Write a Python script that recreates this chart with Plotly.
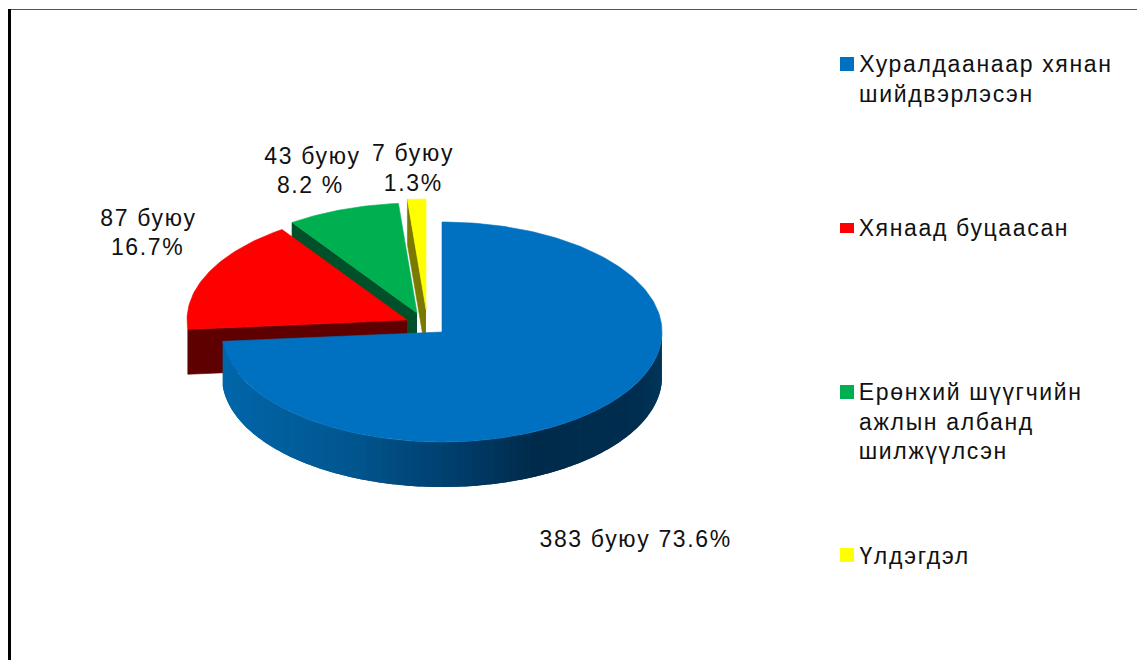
import numpy as np
import plotly.graph_objects as go

# ---- data ----
categories = ["Хуралдаанаар хянан шийдвэрлэсэн", "Хянаад буцаасан",
              "Ерөнхий шүүгчийн ажлын албанд шилжүүлсэн", "Үлдэгдэл"]
values = [383, 87, 43, 7]
top_colors = ["#0070C0", "#FF0000", "#00B050", "#FFFF00"]
side_colors = ["#004F88", "#5E0000", "#00512A", "#7A7A00"]

label_lines = [["383 буюу 73.6%"], ["87 буюу", "16.7%"], ["43 буюу", "8.2 %"], ["7 буюу", "1.3%"]]
label_pos = [[(635, 539)], [(148, 218), (147, 247)], [(312, 156), (310, 185)], [(413, 153), (413, 183)]]

legend_lines = [["Хуралдаанаар хянан", "шийдвэрлэсэн"], ["Хянаад буцаасан"],
                ["Ерөнхий шүүгчийн", "ажлын албанд", "шилжүүлсэн"], ["Үлдэгдэл"]]
legend_y = [[64, 94], [228], [392, 422, 451], [556]]
key_boxes = [(57, 71), (223, 233), (385, 399), (548, 562)]

# ---- pie geometry ----
RX, RY, DEPTH = 220, 110, 45
apexes = [(442, 332), (407, 320), (417, 313), (426, 309)]
FONT = "Liberation Sans"
FS = 23
LETTER_SP = 1.65

total = sum(values)
angles = np.concatenate([[0], np.cumsum(values) / total * 360])


def rim(apex, th):
    t = np.radians(th)
    return apex[0] + RX * np.sin(t), apex[1] - RY * np.cos(t)


def poly(xs, ys, color, name=None, lw=0.6):
    return go.Scatter(x=list(xs), y=list(ys), mode="lines", fill="toself", fillcolor=color,
                      line=dict(color=color, width=lw), hoverinfo="skip", showlegend=False,
                      name=name)


def hexmix(stops, f):
    pos = [s[0] for s in stops]
    r = np.interp(f, pos, [int(s[1][1:3], 16) for s in stops])
    g = np.interp(f, pos, [int(s[1][3:5], 16) for s in stops])
    b = np.interp(f, pos, [int(s[1][5:7], 16) for s in stops])
    return f"rgb({r:.0f},{g:.0f},{b:.0f})"


wall_stops = [(222, "#0166AA"), (350, "#01568F"), (450, "#003F6E"), (535, "#002A4A"),
              (640, "#002E50"), (662, "#013559")]

fig = go.Figure()

# back-to-front: yellow, green, red, blue
for i in [3, 2, 1]:
    a = apexes[i]
    rx0, ry0 = rim(a, angles[i])
    fig.add_trace(poly([a[0], rx0, rx0, a[0]], [a[1], ry0, ry0 + DEPTH, a[1] + DEPTH], side_colors[i]))
    th = np.linspace(angles[i], angles[i + 1], 60)
    xs, ys = rim(a, th)
    fig.add_trace(poly(np.r_[a[0], xs, a[0]], np.r_[a[1], ys, a[1]], top_colors[i], categories[i]))

# blue wall: shaded strips along the visible rim, each overlapping the previous one
a = apexes[0]
edges = np.arange(90, angles[1] + 2.0, 2.0)
edges[-1] = angles[1]
for t0, t1 in zip(edges[:-1], edges[1:]):
    th = np.linspace(t0, min(t1 + 2.0, angles[1]), 5)
    xs, ys = rim(a, th)
    col = hexmix(wall_stops, rim(a, (t0 + t1) / 2)[0])
    fig.add_trace(go.Scatter(x=list(np.r_[xs, xs[::-1]]), y=list(np.r_[ys, ys[::-1] + DEPTH]),
                             mode="none", fill="toself", fillcolor=col,
                             hoverinfo="skip", showlegend=False))

th = np.linspace(angles[0], angles[1], 240)
xs, ys = rim(a, th)
fig.add_trace(poly(np.r_[a[0], xs, a[0]], np.r_[a[1], ys, a[1]], top_colors[0], categories[0]))

shapes = []
for (y0, y1), c in zip(key_boxes, top_colors):
    shapes.append(dict(type="rect", x0=840, x1=854, y0=y0, y1=y1, fillcolor=c, line_width=0, xref="x", yref="y"))
# frame
shapes.append(dict(type="line", x0=8, x1=1137, y0=9.5, y1=9.5, line=dict(color="#555555", width=1), xref="x", yref="y"))
shapes.append(dict(type="line", x0=9.5, x1=9.5, y0=9, y1=660, line=dict(color="#000000", width=3), xref="x", yref="y"))

ann = []
for lines, pos in zip(label_lines, label_pos):
    for t, (x, y) in zip(lines, pos):
        ann.append(dict(x=x, y=y, text=t, showarrow=False, xanchor="center", yanchor="middle",
                        font=dict(family=FONT, size=FS, color="#111111")))
for lines, ys_ in zip(legend_lines, legend_y):
    for t, y in zip(lines, ys_):
        # the extra letter spacing spreads around the text's centre, so move it by half
        ann.append(dict(x=857 + len(t) * LETTER_SP / 2, y=y, text=t, showarrow=False,
                        xanchor="left", yanchor="middle",
                        font=dict(family=FONT, size=FS, color="#111111")))

fig.update_layout(
    width=1137, height=660, margin=dict(l=0, r=0, t=0, b=0), autosize=False,
    paper_bgcolor="#FFFFFF", plot_bgcolor="#FFFFFF", showlegend=False,
    xaxis=dict(range=[0, 1137], visible=False, fixedrange=True),
    yaxis=dict(range=[660, 0], visible=False, fixedrange=True),
    shapes=shapes, annotations=ann,
)
fig.write_html("out.html", config={"displayModeBar": False},
               post_script="document.body.style.margin='0';document.body.style.overflow='hidden';"
                           "document.querySelectorAll('.annotation-text').forEach(function(e){e.style.letterSpacing='%spx';});" % LETTER_SP)
